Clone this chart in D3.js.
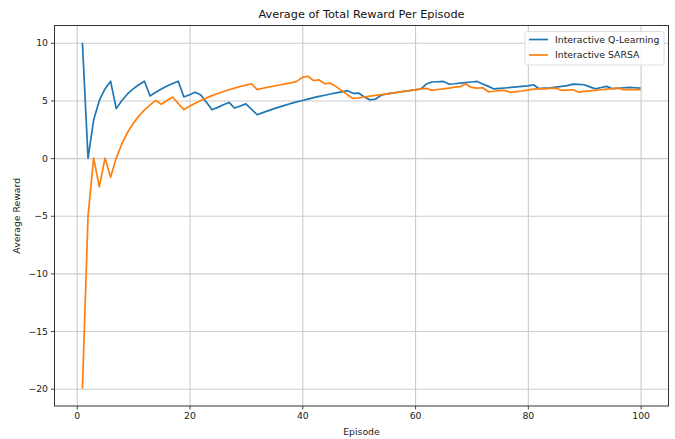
<!DOCTYPE html>
<html>
<head>
<meta charset="utf-8">
<script src="https://cdn.jsdelivr.net/npm/d3@7"></script>
<style>
  body { margin: 0; background: #fff; }
  svg { font-family: "DejaVu Sans", sans-serif; }
</style>
</head>
<body>
<div class="vis"></div>
<script>
// episodes 1..100
var episodes = d3.range(1, 101);

// one value per episode
var qLearning = [
  10, 0, 3.33, 5, 6, 6.67, 4.29, 5, 5.56, 6,
  6.36, 6.67, 5.38, 5.71, 6, 6.25, 6.47, 6.67, 5.3, 5.5,
  5.71, 5.47, 4.84, 4.19, 4.4, 4.62, 4.83, 4.34, 4.52, 4.7,
  4.23, 3.76, 3.94, 4.12, 4.29, 4.44, 4.59, 4.74, 4.87, 5.0,
  5.12, 5.24, 5.35, 5.45, 5.56, 5.65, 5.74, 5.85, 5.62, 5.64,
  5.3, 5.05, 5.12, 5.45, 5.57, 5.64, 5.71, 5.78, 5.85, 5.92,
  5.99, 6.42, 6.6, 6.62, 6.65, 6.42, 6.45, 6.5, 6.55, 6.6,
  6.65, 6.43, 6.22, 6.0, 6.04, 6.08, 6.13, 6.17, 6.22, 6.27,
  6.36, 6.02, 6.07, 6.1, 6.16, 6.22, 6.28, 6.42, 6.39, 6.36,
  6.18, 6.0, 6.12, 6.22, 6.02, 6.06, 6.1, 6.13, 6.1, 6.07
];

var sarsa = [
  -20, -5, 0, -2.5, 0, -1.67, 0, 1.25, 2.22, 3,
  3.64, 4.17, 4.62, 5, 4.67, 5, 5.29, 4.74, 4.21, 4.5,
  4.76, 5, 5.22, 5.42, 5.6, 5.77, 5.93, 6.07, 6.21, 6.33,
  6.45, 5.94, 6.06, 6.15, 6.25, 6.34, 6.44, 6.53, 6.65, 7.0,
  7.1, 6.72, 6.78, 6.45, 6.5, 6.2, 5.85, 5.5, 5.17, 5.22,
  5.3, 5.37, 5.44, 5.5, 5.57, 5.64, 5.71, 5.78, 5.85, 5.92,
  6.0, 6.05, 5.87, 5.95, 6.0, 6.07, 6.15, 6.2, 6.42, 6.13,
  6.07, 6.1, 5.75, 5.8, 5.87, 5.85, 5.7, 5.76, 5.82, 5.9,
  5.98, 6.02, 6.0, 6.05, 6.07, 5.87, 5.9, 5.93, 5.73, 5.78,
  5.83, 5.88, 5.93, 5.98, 6.03, 6.07, 5.93, 5.95, 5.94, 5.93
];

var seriesNames = ["Interactive Q-Learning", "Interactive SARSA"];
var seriesColors = ["#1f77b4", "#ff7f0e"];
var xTicks = [0, 20, 40, 60, 80, 100];
var yTicks = [-20, -15, -10, -5, 0, 5, 10];

var chart = {
  width: 675,
  height: 439,
  box: { left: 54.5, right: 668.5, top: 25.5, bottom: 406 },

  draw: function(){
    var b = chart.box;
    var svg = d3.select(".vis").append("svg")
      .attr("width", chart.width)
      .attr("height", chart.height);

    // matplotlib style 5% margins round the data
    var x = d3.scaleLinear().domain([-3.95, 104.95]).range([b.left, b.right]);
    var y = d3.scaleLinear().domain([-21.5, 11.5]).range([b.bottom, b.top]);

    // grid
    svg.append("g").attr("class", "grid-x")
      .attr("transform", "translate(0," + b.bottom + ")")
      .call(d3.axisBottom(x).tickValues(xTicks).tickSize(-(b.bottom - b.top)).tickFormat(""))
      .call(function(g){ g.select(".domain").remove(); })
      .selectAll("line").attr("stroke", "#cccccc").attr("stroke-width", 1.1);
    svg.append("g").attr("class", "grid-y")
      .attr("transform", "translate(" + b.left + ",0)")
      .call(d3.axisLeft(y).tickValues(yTicks).tickSize(-(b.right - b.left)).tickFormat(""))
      .call(function(g){ g.select(".domain").remove(); })
      .selectAll("line").attr("stroke", "#cccccc").attr("stroke-width", 1.1);

    // lines
    var series = [qLearning, sarsa];
    var line = d3.line()
      .x(function(d, i){ return x(episodes[i]); })
      .y(function(d){ return y(d); });
    series.forEach(function(s, k){
      svg.append("path")
        .datum(s)
        .attr("fill", "none")
        .attr("stroke", seriesColors[k])
        .attr("stroke-width", 1.7)
        .attr("stroke-linejoin", "round")
        .attr("d", line);
    });

    // axes
    var fmt = function(d){ return d < 0 ? "\u2212" + Math.abs(d) : String(d); };
    var xAxis = svg.append("g")
      .attr("transform", "translate(0," + b.bottom + ")")
      .call(d3.axisBottom(x).tickValues(xTicks).tickSize(3.5).tickPadding(3).tickFormat(fmt));
    var yAxis = svg.append("g")
      .attr("transform", "translate(" + b.left + ",0)")
      .call(d3.axisLeft(y).tickValues(yTicks).tickSize(3.5).tickPadding(3).tickFormat(fmt));
    [xAxis, yAxis].forEach(function(a){
      a.select(".domain").remove();
      a.selectAll("text").attr("font-size", 9.3).attr("fill", "#222")
        .attr("font-family", "DejaVu Sans");
      a.selectAll("line").attr("stroke", "#333").attr("stroke-width", 0.9);
    });

    // frame
    svg.append("rect")
      .attr("x", b.left).attr("y", b.top)
      .attr("width", b.right - b.left).attr("height", b.bottom - b.top)
      .attr("fill", "none").attr("stroke", "#333").attr("stroke-width", 1);

    // texts
    svg.append("text")
      .attr("x", (b.left + b.right) / 2).attr("y", 18)
      .attr("text-anchor", "middle").attr("font-size", 11.3).attr("fill", "#111")
      .text("Average of Total Reward Per Episode");
    svg.append("text")
      .attr("x", (b.left + b.right) / 2).attr("y", 435)
      .attr("text-anchor", "middle").attr("font-size", 9.3).attr("fill", "#222")
      .text("Episode");
    svg.append("text")
      .attr("transform", "translate(20," + (b.top + b.bottom) / 2 + ") rotate(-90)")
      .attr("text-anchor", "middle").attr("font-size", 9.3).attr("fill", "#222")
      .text("Average Reward");

    // legend
    var lg = svg.append("g").attr("transform", "translate(525,31.5)");
    lg.append("rect")
      .attr("width", 139).attr("height", 33.5).attr("rx", 2.5)
      .attr("fill", "#fff").attr("fill-opacity", 0.85)
      .attr("stroke", "#d5d5d5").attr("stroke-width", 0.8);
    seriesNames.forEach(function(name, k){
      var yy = 8 + k * 15.5;
      lg.append("line")
        .attr("x1", 4).attr("x2", 23).attr("y1", yy).attr("y2", yy)
        .attr("stroke", seriesColors[k]).attr("stroke-width", 1.7);
      lg.append("text")
        .attr("x", 30).attr("y", yy + 3.3)
        .attr("font-size", 9.3).attr("fill", "#222")
        .text(name);
    });
  }
};

chart.draw();
</script>
</body>
</html>
